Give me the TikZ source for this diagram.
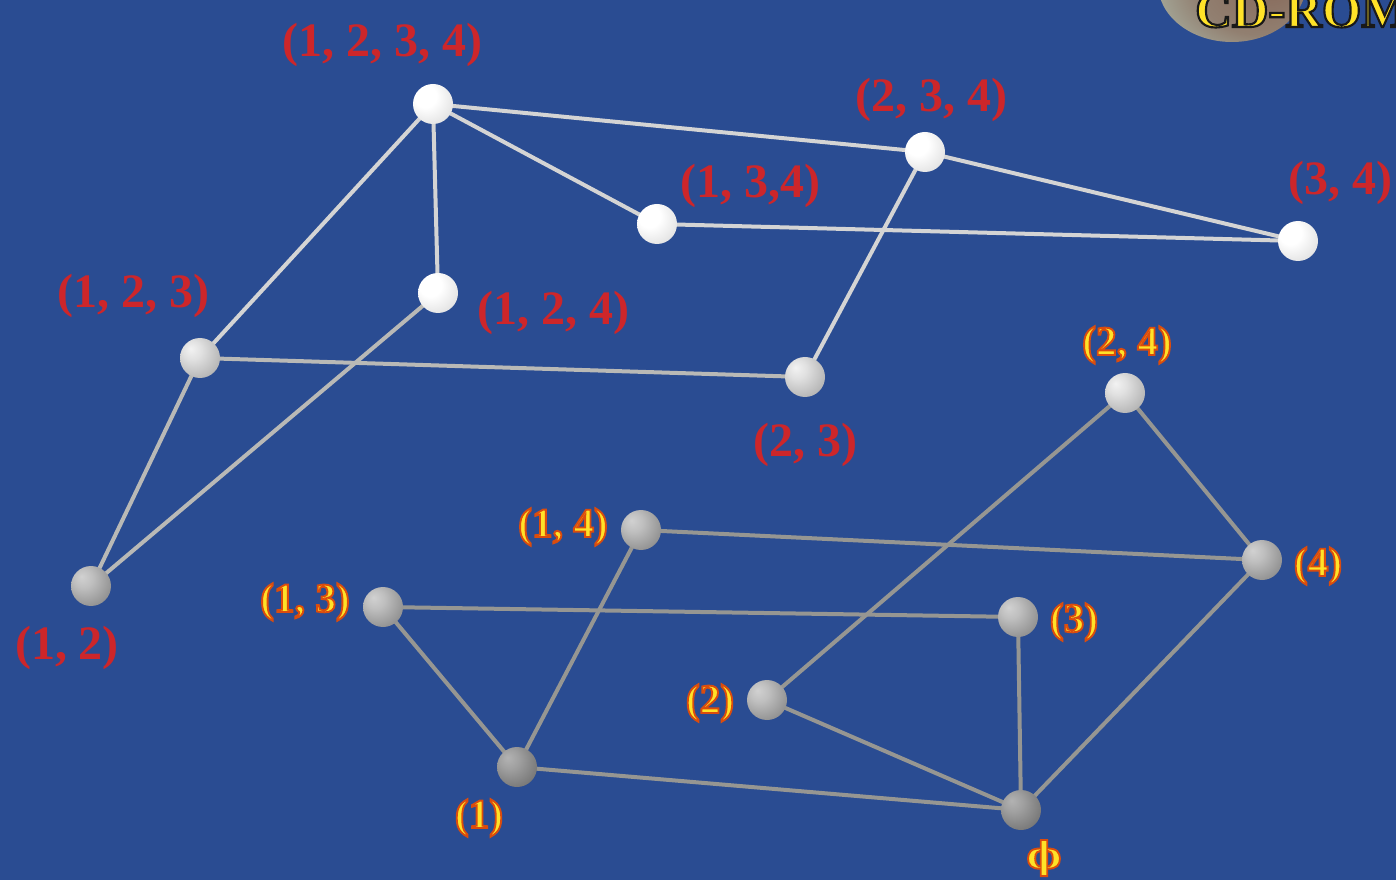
\documentclass[tikz,border=0pt]{standalone}
\usepackage{fontspec}
\setmainfont{Liberation Serif}
\newfontfamily\phifont{DejaVu Serif}
\definecolor{bgblue}{RGB}{42,76,146}
\definecolor{labred}{RGB}{205,38,42}
\definecolor{labyel}{RGB}{255,226,40}
\definecolor{edgehi}{RGB}{212,212,212}
\definecolor{edgemid}{RGB}{185,185,182}
\definecolor{edgelo}{RGB}{150,150,146}
\definecolor{cdrim}{RGB}{170,180,165}
\definecolor{cdin}{RGB}{135,105,90}
\pgfdeclarelayer{bgl}
\pgfdeclarelayer{edges}
\pgfsetlayers{bgl,edges,main}
\pgfdeclareradialshading{whitesph}{\pgfpoint{-12bp}{12bp}}{color(0bp)=(white); color(14bp)=(white); color(32bp)=(black!10); color(46bp)=(black!28); color(70bp)=(black!45)}
\pgfdeclareradialshading{lightsph}{\pgfpoint{-12bp}{12bp}}{color(0bp)=(white!95!black); color(12bp)=(white!88!black); color(32bp)=(black!28); color(50bp)=(black!45); color(70bp)=(black!58)}
\pgfdeclareradialshading{graysph}{\pgfpoint{-12bp}{12bp}}{color(0bp)=(black!18); color(12bp)=(black!25); color(32bp)=(black!42); color(50bp)=(black!58); color(70bp)=(black!68)}
\pgfdeclareradialshading{darksph}{\pgfpoint{-12bp}{12bp}}{color(0bp)=(black!30); color(12bp)=(black!37); color(32bp)=(black!52); color(50bp)=(black!66); color(70bp)=(black!75)}
\pgfdeclareradialshading{cdshade}{\pgfpoint{14bp}{0bp}}{color(0bp)=(cdin); color(22bp)=(cdin!70!cdrim); color(38bp)=(cdrim); color(50bp)=(cdrim!85!black); color(70bp)=(cdrim!70!black)}
% outlined text: fill + stroke render mode (xdvipdfmx)
\newcommand{\outtxt}[3]{{\color{labyel}\special{pdf:code 2 Tr #1 w #2 RG}#3\special{pdf:code 0 Tr}}}
\newcommand{\ytxt}[1]{\outtxt{1.4}{0.86 0.30 0.05}{#1}}
\tikzset{
 sph/.style={circle,inner sep=0pt,minimum size=30pt},
 wball/.style={sph,shading=whitesph},
 lball/.style={sph,shading=lightsph},
 gball/.style={sph,shading=graysph},
 dball/.style={sph,shading=darksph},
 ehi/.style={draw=edgehi,line width=3pt},
 emid/.style={draw=edgemid,line width=3pt},
 elo/.style={draw=edgelo,line width=3pt},
 rlab/.style={inner sep=0pt,text=labred,font=\fontsize{36}{40}\selectfont\bfseries},
 ylab/.style={inner sep=0pt,font=\fontsize{31}{34}\selectfont\bfseries},
}
\begin{document}
\begin{tikzpicture}[x=0.75pt,y=-0.75pt]
\useasboundingbox (0,0) rectangle (1396,880);
\begin{pgfonlayer}{bgl}
\fill[bgblue] (0,0) rectangle (1396,880);
\begin{scope}
\clip (0,0) rectangle (1396,880);
\shade[shading=cdshade] (1232,-16) ellipse [x radius=74, y radius=58];
\end{scope}
\end{pgfonlayer}
% CD-ROM
\begin{scope}
\clip (0,0) rectangle (1396,880);
\node[inner sep=0pt,anchor=base west,font=\fontsize{38}{40}\selectfont\bfseries] (cdrom) at (1195,27) {\outtxt{1.6}{0.1 0.1 0.1}{CD-ROM}};
\end{scope}
% nodes
\node[wball] (n1234) at (433,104) {};
\node[wball] (n234) at (925,152) {};
\node[wball] (n134) at (657,224) {};
\node[wball] (n34) at (1298,241) {};
\node[lball] (n123) at (200,358) {};
\node[wball] (n124) at (438,293) {};
\node[lball] (n23) at (805,377) {};
\node[lball] (n24) at (1125,393) {};
\node[gball] (n12) at (91,586) {};
\node[gball] (n14) at (641,530) {};
\node[gball] (n13) at (383,607) {};
\node[gball] (n4) at (1262,560) {};
\node[gball] (n3) at (1018,617) {};
\node[gball] (n2) at (767,700) {};
\node[dball] (n1) at (517,767) {};
\node[dball] (n0) at (1021,810) {};
% edges
\begin{pgfonlayer}{edges}
\draw[ehi] (n1234.center) -- (n234.center);
\draw[ehi] (n1234.center) -- (n134.center);
\draw[ehi] (n1234.center) -- (n124.center);
\draw[ehi] (n1234.center) -- (n123.center);
\draw[ehi] (n234.center) -- (n34.center);
\draw[ehi] (n234.center) -- (n23.center);
\draw[ehi] (n134.center) -- (n34.center);
\draw[emid] (n123.center) -- (n23.center);
\draw[emid] (n123.center) -- (n12.center);
\draw[emid] (n124.center) -- (n12.center);
\draw[elo] (n24.center) -- (n2.center);
\draw[elo] (n24.center) -- (n4.center);
\draw[elo] (n14.center) -- (n4.center);
\draw[elo] (n14.center) -- (n1.center);
\draw[elo] (n13.center) -- (n3.center);
\draw[elo] (n13.center) -- (n1.center);
\draw[elo] (n3.center) -- (n0.center);
\draw[elo] (n2.center) -- (n0.center);
\draw[elo] (n1.center) -- (n0.center);
\draw[elo] (n4.center) -- (n0.center);
\end{pgfonlayer}
% red labels
\node[rlab] (l1234) at (382,45) {(1, 2, 3, 4)};
\node[rlab] (l234) at (931,100) {(2, 3, 4)};
\node[rlab] (l134) at (750,186) {(1, 3,4)};
\node[rlab,anchor=west] (l34) at (1288,183) {(3, 4)};
\node[rlab] (l123) at (133,296) {(1, 2, 3)};
\node[rlab] (l124) at (553,313) {(1, 2, 4)};
\node[rlab] (l23) at (805,445) {(2, 3)};
\node[rlab] (l12) at (67,648) {(1, 2)};
% yellow labels
\node[ylab] (l24) at (1127,345) {\ytxt{(2, 4)}};
\node[ylab] (l14) at (563,527) {\ytxt{(1, 4)}};
\node[ylab] (l13) at (305,602) {\ytxt{(1, 3)}};
\node[ylab] (l4) at (1318,566) {\ytxt{(4)}};
\node[ylab] (l3) at (1074,622) {\ytxt{(3)}};
\node[ylab] (l2) at (710,703) {\ytxt{(2)}};
\node[ylab] (l1) at (479,818) {\ytxt{(1)}};
\node[inner sep=0pt,font=\phifont\bfseries\fontsize{28}{30}\selectfont] (l0) at (1044,858) {\ytxt{ϕ}};
\end{tikzpicture}
\end{document}
